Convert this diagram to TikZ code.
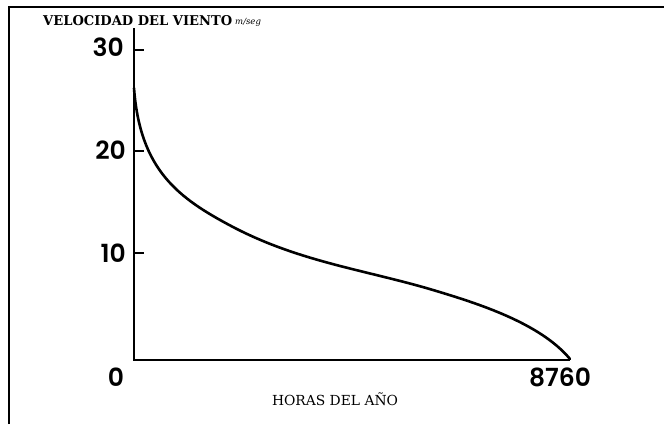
\documentclass[tikz,border=0pt]{standalone}
\usepackage{fontspec}
\setmainfont{DejaVu Serif}
\newfontfamily\numfont[UprightFont={* SemiBold}]{Poppins}
\begin{document}
\begin{tikzpicture}[x=1pt,y=-1pt,
  num/.style={font=\numfont\fontsize{25}{25}\selectfont, inner sep=0pt},
  axisline/.style={line width=1.9pt},
  tickline/.style={line width=1.5pt},
  curveline/.style={line width=2.6pt, line cap=round, line join=round},
  framel/.style={line width=1.6pt}]
\useasboundingbox (0,0) rectangle (664,424);
% frame
\draw[framel] (9,424) -- (9,7) -- (664,7);
% axes
\coordinate (ytop) at (134,28);
\coordinate (orig) at (134,360);
\coordinate (xend) at (570,360);
\draw[axisline] (ytop) -- (orig) -- (xend);
% ticks
\foreach \v/\yy in {30/50,20/151,10/253}{
  \coordinate (t\v) at (134,\yy);
  \draw[tickline] (t\v) -- ++(10,0);
}
\node[num, anchor=east] (l30) at (124,47) {30};
\node[num, anchor=east] (l20) at (126,150) {20};
\node[num, anchor=east] (l10) at (126,253) {10};
\node[num] (l0) at (116,377) {0};
\node[num] (l8760) at (560,377) {8760};
% curve
\coordinate (c0) at (134,88);
\coordinate (c1) at (233,227);
\coordinate (c2) at (433,290);
\coordinate (c3) at (570,359);
\draw[curveline] (c0) .. controls (140,170) and (178,198) .. (c1)
  .. controls (300,262) and (366,270) .. (c2)
  .. controls (478,303.5) and (540,323) .. (c3);
% labels
\node[anchor=west, inner sep=0pt] (title) at (43,21) {\resizebox{189pt}{10pt}{\bfseries VELOCIDAD DEL VIENTO}};
\node[anchor=west, inner sep=0pt, font=\itshape\fontsize{8.5}{9}\selectfont] (unit) at (235,22) {m/seg};
\node[inner sep=0pt] (xlab) at (335,399) {\resizebox{126pt}{!}{\fontsize{12}{12}\selectfont HORAS DEL AÑO}};
\end{tikzpicture}
\end{document}
